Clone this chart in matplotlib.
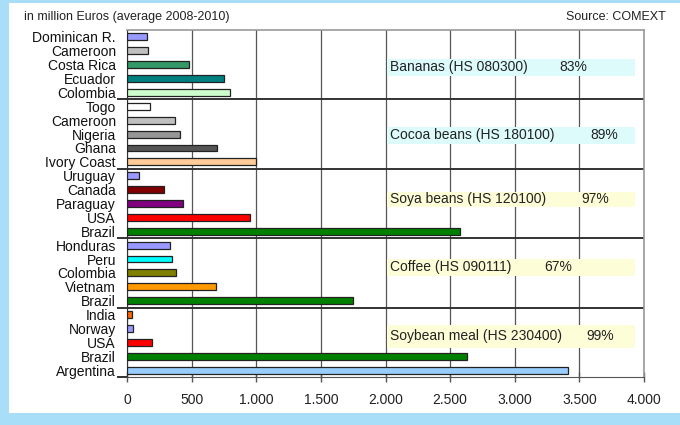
import matplotlib
matplotlib.use("Agg")
import matplotlib.pyplot as plt
import matplotlib.patches as mpatches
from matplotlib.ticker import FuncFormatter

plt.rcParams["font.family"] = ["Liberation Sans", "DejaVu Sans"]

# ── data (million EUR, average 2008-2010), listed top to bottom ───────────────
countries = [
    "Dominican R.", "Cameroon", "Costa Rica", "Ecuador", "Colombia",
    "Togo", "Cameroon", "Nigeria", "Ghana", "Ivory Coast",
    "Uruguay", "Canada", "Paraguay", "USA", "Brazil",
    "Honduras", "Peru", "Colombia", "Vietnam", "Brazil",
    "India", "Norway", "USA", "Brazil", "Argentina",
]
values = [
    158, 165, 480, 747, 798,
    178, 372, 410, 700, 1000,
    94, 285, 436, 948, 2578,
    333, 349, 379, 687, 1750,
    41, 49, 190, 2634, 3410,
]
colors = [
    "#9999FF", "#C0C0C0", "#339966", "#008080", "#CCFFCC",
    "#FFFFFF", "#C0C0C0", "#969696", "#555555", "#FFCC99",
    "#9999FF", "#800000", "#800080", "#FF0000", "#008000",
    "#9999FF", "#00FFFF", "#808000", "#FF9900", "#008000",
    "#FF6600", "#9999FF", "#FF0000", "#008000", "#99CCFF",
]

products = ["Bananas (HS 080300)", "Cocoa beans (HS 180100)", "Soya beans (HS 120100)",
            "Coffee (HS 090111)", "Soybean meal (HS 230400)"]
shares = ["83%", "89%", "97%", "67%", "99%"]
group_size = 5

# label boxes: (row centre, height in rows, share x-position, fill)
box_rows = [2.2, 7.1, 11.7, 16.6, 21.55]
box_heights = [1.25, 1.25, 1.1, 1.25, 1.65]
share_x = [3345, 3584, 3514, 3229, 3553]
box_fill = ["#DDFBFB", "#DDFBFB", "#FDFDD8", "#FDFDD8", "#FDFDD8"]

BLUE = "#A8DEF8"

fig = plt.figure(figsize=(6.8, 4.25), dpi=100, facecolor=BLUE)
fig.patches.append(mpatches.Rectangle((9 / 680, 12 / 425), 1 - 9 / 680, 1 - 15 / 425,
                                      transform=fig.transFigure, facecolor="white",
                                      edgecolor="none", zorder=0))
ax = fig.add_axes([127 / 680, 48 / 425, 517 / 680, 347 / 425])
ax.set_zorder(2)
ax.set_facecolor("white")

rows = list(range(len(countries)))
ax.barh(rows, values, height=0.5, color=colors, edgecolor="#222222", linewidth=0.9, zorder=3)

ax.set_xlim(0, 4000)
ax.set_ylim(len(countries) - 0.5, -0.5)
ax.set_xticks(range(0, 4001, 500))
ax.xaxis.set_major_formatter(FuncFormatter(lambda v, _: f"{int(v):,}".replace(",", ".")))
ax.tick_params(axis="x", direction="inout", length=7, width=1, color="#555555",
               labelsize=10, pad=8, labelcolor="#222222")
ax.grid(axis="x", color="#555555", linewidth=0.9, zorder=1)

# group boundaries as y ticks, country names as minor tick labels
bounds = [g * group_size - 0.5 for g in range(1, len(countries) // group_size)]
ax.set_yticks(bounds + [len(countries) - 0.5])
ax.set_yticklabels([])
ax.tick_params(axis="y", which="major", direction="out", length=7, width=1.4, color="#333333")
ax.set_yticks(rows, minor=True)
ax.set_yticklabels(countries, minor=True, fontsize=10)
ax.tick_params(axis="y", which="minor", length=0, pad=8, labelcolor="#111111")
for b in bounds:
    ax.axhline(b, color="#333333", linewidth=1.4, zorder=2)

for side in ["top", "right"]:
    ax.spines[side].set_color("#999999")
    ax.spines[side].set_linewidth(1.2)
ax.spines["left"].set_color("#333333")
ax.spines["bottom"].set_color("#555555")

for name, share, yc, h, sx, fc in zip(products, shares, box_rows, box_heights, share_x, box_fill):
    ax.add_patch(mpatches.Rectangle((2010, yc - h / 2), 1920, h, facecolor=fc,
                                    edgecolor="none", zorder=2))
    ax.text(2035, yc, name, fontsize=10, va="center", ha="left", color="#222222", zorder=4)
    ax.text(sx, yc, share, fontsize=10, va="center", ha="left", color="#222222", zorder=4)

fig.text(24 / 680, 1 - 17 / 425, "in million Euros (average 2008-2010)", fontsize=9,
         va="center", ha="left", color="#222222")
fig.text(666 / 680, 1 - 17 / 425, "Source: COMEXT", fontsize=9,
         va="center", ha="right", color="#222222")

fig.savefig("out.png", dpi=100, facecolor=BLUE)
